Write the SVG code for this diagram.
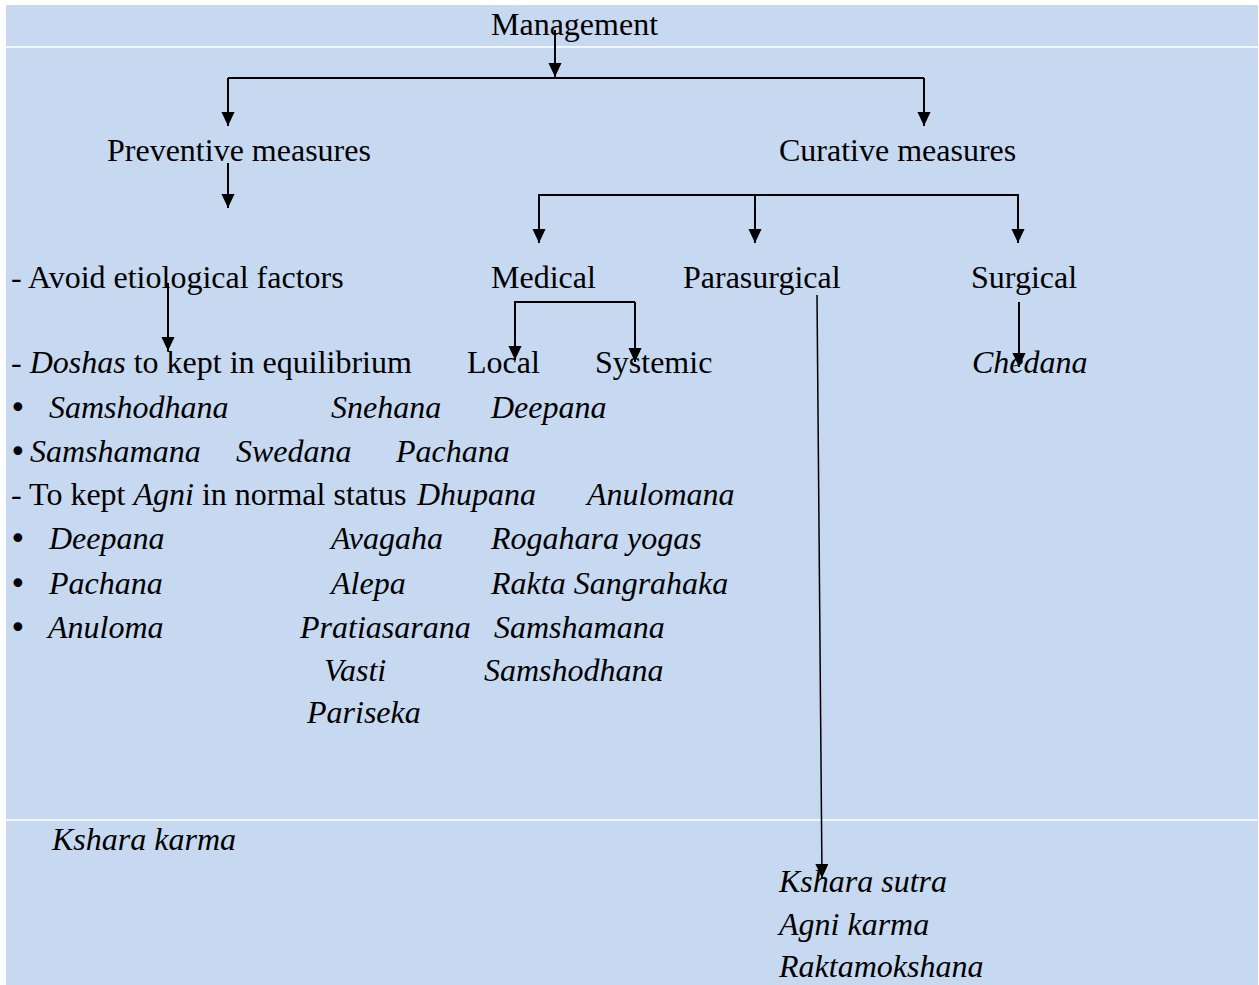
<svg xmlns="http://www.w3.org/2000/svg" width="1259" height="985" viewBox="0 0 1259 985">
<style>
text{font-family:"Liberation Serif","Times New Roman",serif;font-size:32px;fill:#000}
.i{font-style:italic}
.b{font-family:"DejaVu Sans",sans-serif;font-size:30px}
.c{stroke:#000;stroke-width:2;fill:none}
.t{stroke:#000;stroke-width:1.5;fill:none}
</style>
<defs>
<marker id="ah" viewBox="0 0 14 15" refX="15" refY="7" markerWidth="15" markerHeight="14" markerUnits="userSpaceOnUse" orient="auto">
<path d="M0,0 L15,7 L0,14 z" fill="#000"/>
</marker>
</defs>
<rect x="0" y="0" width="1259" height="985" fill="#ffffff"/>
<rect x="6" y="5" width="1252" height="980" fill="#c6d9f1"/>
<line x1="6" y1="47" x2="1258" y2="47" stroke="#ffffff" stroke-width="1.5"/>
<line x1="6" y1="820" x2="1258" y2="820" stroke="#ffffff" stroke-width="1.5"/>

<g id="connectors">
<path class="c" d="M555,30 V77" marker-end="url(#ah)"/>
<path class="c" d="M228,78 H924"/>
<path class="c" d="M228,78 V126" marker-end="url(#ah)"/>
<path class="c" d="M924,78 V126" marker-end="url(#ah)"/>
<path class="c" d="M228,163 V208" marker-end="url(#ah)"/>
<path class="c" d="M538,195 H1019"/>
<path class="c" d="M539,195 V243" marker-end="url(#ah)"/>
<path class="c" d="M755,195 V243" marker-end="url(#ah)"/>
<path class="c" d="M1018,195 V243" marker-end="url(#ah)"/>
<path class="c" d="M515,302 H635"/>
<path class="c" d="M515,301 V360" marker-end="url(#ah)"/>
<path class="c" d="M635,302 V362" marker-end="url(#ah)"/>
<path class="c" d="M1019,302 V367" marker-end="url(#ah)"/>
<path class="c" d="M168,283 V351" marker-end="url(#ah)"/>
<path class="t" d="M817,295 L822,878" marker-end="url(#ah)"/>
</g>

<g id="management"><text x="491" y="35">Management</text></g>
<g id="preventive"><text x="107" y="161">Preventive measures</text></g>
<g id="curative"><text x="779" y="161">Curative measures</text></g>
<g id="avoid"><text x="11" y="288">- Avoid etiological factors</text></g>
<g id="medical"><text x="491" y="288">Medical</text></g>
<g id="parasurgical"><text x="683" y="288">Parasurgical</text></g>
<g id="surgical"><text x="971" y="288">Surgical</text></g>
<g id="doshas"><text x="11" y="373">- <tspan class="i">Doshas</tspan> to kept in equilibrium</text></g>
<g id="local"><text x="467" y="373">Local</text></g>
<g id="systemic"><text x="595" y="373">Systemic</text></g>
<g id="chedana"><text class="i" x="972" y="373">Chedana</text></g>

<g id="preventive-list">
<text class="b" x="9" y="418">•</text><text class="i" x="49" y="418">Samshodhana</text>
<text class="b" x="9" y="462">•</text><text class="i" x="30" y="462">Samshamana</text>
<text x="11" y="505">- To kept <tspan class="i">Agni</tspan> in normal status</text>
<text class="b" x="9" y="549">•</text><text class="i" x="49" y="549">Deepana</text>
<text class="b" x="9" y="594">•</text><text class="i" x="49" y="594">Pachana</text>
<text class="b" x="9" y="638">•</text><text class="i" x="48" y="638">Anuloma</text>
</g>

<g id="local-list">
<text class="i" x="331" y="418">Snehana</text>
<text class="i" x="236" y="462">Swedana</text>
<text class="i" x="417" y="505">Dhupana</text>
<text class="i" x="331" y="549">Avagaha</text>
<text class="i" x="331" y="594">Alepa</text>
<text class="i" x="300" y="638">Pratiasarana</text>
<text class="i" x="324" y="681">Vasti</text>
<text class="i" x="307" y="723">Pariseka</text>
</g>

<g id="systemic-list">
<text class="i" x="491" y="418">Deepana</text>
<text class="i" x="396" y="462">Pachana</text>
<text class="i" x="587" y="505">Anulomana</text>
<text class="i" x="491" y="549">Rogahara yogas</text>
<text class="i" x="491" y="594">Rakta Sangrahaka</text>
<text class="i" x="494" y="638">Samshamana</text>
<text class="i" x="484" y="681">Samshodhana</text>
</g>

<g id="kshara-karma"><text class="i" x="52" y="850">Kshara karma</text></g>

<g id="parasurgical-list">
<text class="i" x="779" y="892">Kshara sutra</text>
<text class="i" x="779" y="935">Agni karma</text>
<text class="i" x="779" y="977">Raktamokshana</text>
</g>
</svg>
